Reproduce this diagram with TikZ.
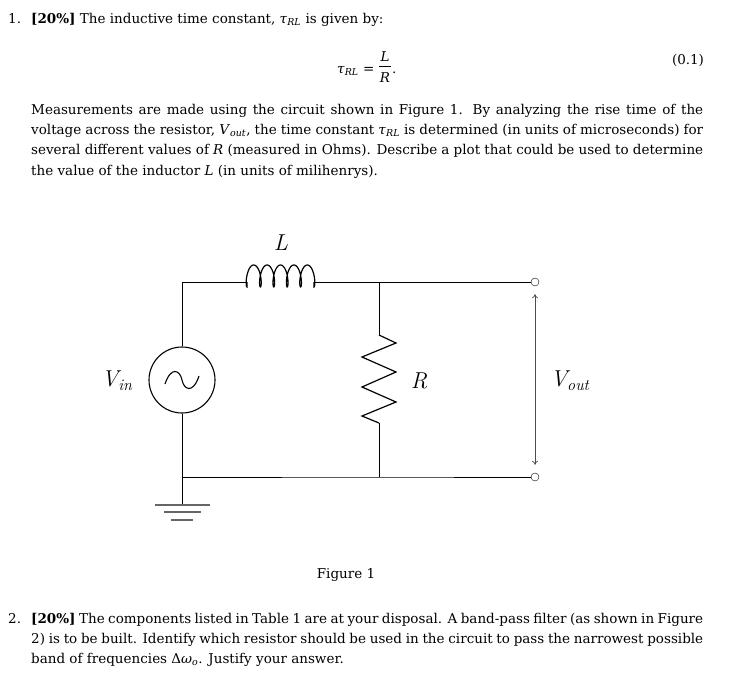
\documentclass[tikz,border=0pt]{standalone}
\usepackage{fontspec}
\setmainfont{DejaVu Serif}
\newfontfamily\lmr{Latin Modern Roman}
\usetikzlibrary{arrows.meta}
\newcommand{\mi}[1]{\textit{#1}}
\newcommand{\tRL}{\mi{τ}\textsubscript{\mi{RL}}}
\begin{document}
\begin{tikzpicture}[x=1pt,y=-1pt,
  txt/.style={anchor=base west,inner sep=0pt,font=\fontsize{13.5}{16}\selectfont},
  wire/.style={line width=0.9pt},
  lbl/.style={inner sep=0pt,font=\fontsize{23}{26}\selectfont\lmr\itshape},
  gnd/.style={line width=1.1pt,gray!80!black}]
\useasboundingbox (0,0) rectangle (737,675);
\newcommand{\jl}[1]{\makebox[672pt][s]{#1}}
% text
\node[txt] (n1) at (8,23) {1.};
\node[txt] (t1) at (31,23) {\textbf{[20\%]} The inductive time constant, \tRL{} is given by:};
\node[txt] (eq) at (337,73) {\tRL{} =};
\node[txt,anchor=base] (eqL) at (385,61) {\mi{L}};
\node[txt,anchor=base] (eqR) at (385,82) {\mi{R}};
\draw[line width=0.6pt] (379,66) -- (391,66);
\node[txt] (dot) at (392,73) {.};
\node[txt,anchor=center] (eqn) at (688,60) {(0.1)};
\node[txt] (p1) at (31,114) {\jl{Measurements are made using the circuit shown in Figure 1. By analyzing the rise time of the}};
\node[txt] (p2) at (31,134) {\jl{voltage across the resistor, \mi{V}\textsubscript{\mi{out}}, the time constant \tRL{} is determined (in units of microseconds) for}};
\node[txt] (p3) at (31,154) {\jl{several different values of \mi{R} (measured in Ohms). Describe a plot that could be used to determine}};
\node[txt] (p4) at (31,175) {the value of the inductor \mi{L} (in units of milihenrys).};
\node[txt,anchor=center] (fig) at (346,575) {Figure 1};
\node[txt] (n2) at (8,623) {2.};
\node[txt] (q1) at (31,623) {\jl{\textbf{[20\%]} The components listed in Table 1 are at your disposal. A band-pass filter (as shown in Figure}};
\node[txt] (q2) at (31,643) {\jl{2) is to be built. Identify which resistor should be used in the circuit to pass the narrowest possible}};
\node[txt] (q3) at (31,663) {band of frequencies Δ\mi{ω}\textsubscript{\mi{o}}. Justify your answer.};
% circuit
\coordinate (tl) at (182,282);
\coordinate (bl) at (182,477);
\coordinate (li) at (247,282);
\coordinate (lo) at (314,282);
\coordinate (rt) at (379,282);
\coordinate (rb) at (379,477);
\coordinate (gd) at (182,505);
\node[circle,draw,line width=1.1pt,minimum size=66pt,inner sep=0pt] (src) at (182,380) {};
\node[circle,draw,thin,minimum size=8pt,inner sep=0pt] (o1) at (535,282) {};
\node[circle,draw,thin,minimum size=8pt,inner sep=0pt] (o2) at (535,477) {};
\draw[line width=1.1pt] (165,384) .. controls (171,366) and (180,370) .. (182,380) .. controls (184,390) and (193,394) .. (199,376);
\draw[wire] (src.north) -- (tl) -- (li);
\draw[line width=1.2pt] (li) -- (247,287) -- plot[domain=0:31.416,samples=250,variable=\t] ({247+13.4*\t/6.2832-3.5*sin(\t r)},{287-11*(1-cos(\t r))}) -- (lo);
\draw[wire] (lo) -- (o1.west);
\draw[wire] (rt) -- (379,335);
\draw[line width=1.2pt] (379,335) -- (396,343) -- (362,357) -- (396,372) -- (362,387) -- (396,402) -- (362,416) -- (379,423);
\draw[wire] (379,423) -- (rb);
\draw[wire] (src.south) -- (bl) -- (rb) -- (o2.west);
\draw[wire] (bl) -- (gd);
\draw[gnd] (155,505) -- (210,505);
\draw[gnd] (164,512) -- (201,512);
\draw[gnd] (171,520) -- (193,520);
\draw[gray!60!black,line width=0.7pt,{To[length=4pt,width=6pt]}-{To[length=4pt,width=6pt]}] ([yshift=-8pt]o1.south) -- ([yshift=8pt]o2.north);
\node[lbl] (Ll) at (281,243) {L};
\node[lbl] (Vin) at (117,381) {V\textsubscript{in}};
\node[lbl] (Rl) at (419,381) {R};
\node[lbl] (Vo) at (570,381) {V\textsubscript{out}};
\end{tikzpicture}
\end{document}
